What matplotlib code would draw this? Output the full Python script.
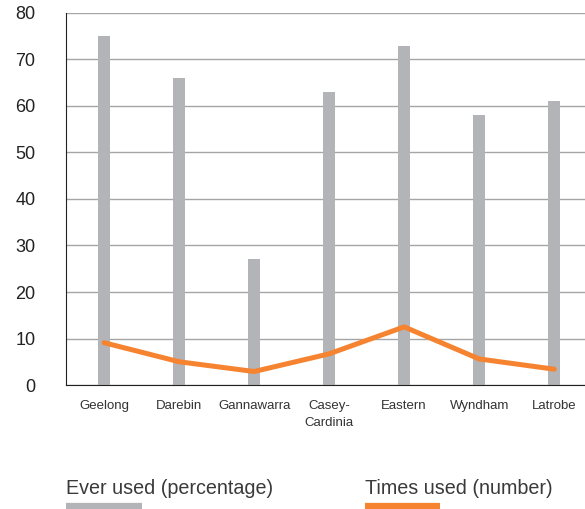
import matplotlib
matplotlib.use("Agg")
import matplotlib.pyplot as plt
from matplotlib.lines import Line2D

regions = ["Geelong", "Darebin", "Gannawarra", "Casey-\nCardinia", "Eastern", "Wyndham", "Latrobe"]
ever_used_pct = [75, 66, 27, 63, 73, 58, 61]
times_used = [9.1, 5.0, 2.9, 6.7, 12.5, 5.6, 3.4]
y_ticks = [0, 10, 20, 30, 40, 50, 60, 70, 80]

GREY = "#b3b4b7"
ORANGE = "#f5832f"

fig = plt.figure(figsize=(5.85, 5.09), dpi=100)
ax = fig.add_axes([0.1128, 0.2436, 0.8872, 0.7309])

x = list(range(len(regions)))
ax.bar(x, ever_used_pct, width=0.16, color=GREY, zorder=2)
ax.plot(x, times_used, color=ORANGE, lw=3.6, solid_capstyle="round",
        solid_joinstyle="round", zorder=3)

ax.set_xlim(-0.507, 6.41)
ax.set_ylim(0, 80)
ax.set_yticks(y_ticks)
ax.set_yticklabels([str(v) for v in y_ticks], fontsize=13, family="Liberation Sans",
                   color="#222222")
ax.set_xticks(x)
ax.set_xticklabels(regions, fontsize=9.5, family="Liberation Sans", color="#333333",
                   linespacing=1.5, va="top")
ax.tick_params(axis="y", length=0, pad=22)
ax.tick_params(axis="x", length=0, pad=11)

ax.yaxis.grid(True, color="#a5a5a5", lw=1.0, zorder=1)
ax.set_axisbelow(True)
for s in ("top", "right"):
    ax.spines[s].set_visible(False)
ax.spines["left"].set_color("#222222")
ax.spines["bottom"].set_color("#222222")

# legend drawn below the plot area
fig.text(66 / 585, 1 - 489 / 509, "Ever used (percentage)", fontsize=14.2,
         family="Liberation Sans", color="#3a3a3a", va="center", ha="left")
fig.text(365 / 585, 1 - 489 / 509, "Times used (number)", fontsize=14.2,
         family="Liberation Sans", color="#3a3a3a", va="center", ha="left")
fig.add_artist(Line2D([66 / 585, 142 / 585], [1 - 506 / 509] * 2, color=GREY, lw=4.5,
                      transform=fig.transFigure, solid_capstyle="butt"))
fig.add_artist(Line2D([365 / 585, 440 / 585], [1 - 506 / 509] * 2, color=ORANGE, lw=4.5,
                      transform=fig.transFigure, solid_capstyle="butt"))

fig.savefig("out.png", dpi=100)
